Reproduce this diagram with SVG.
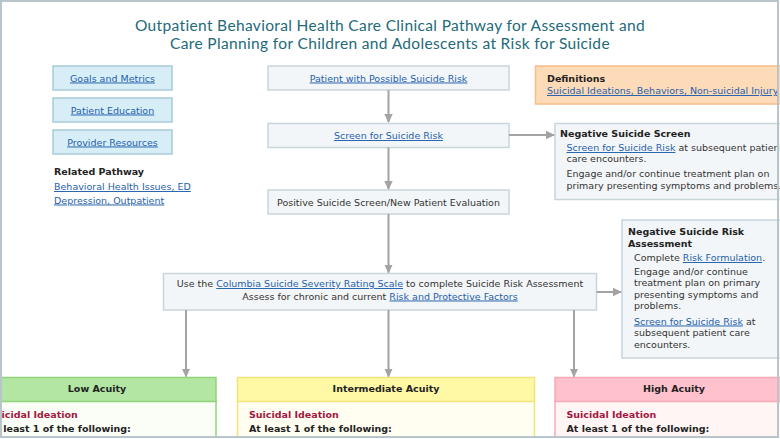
<svg xmlns="http://www.w3.org/2000/svg" width="780" height="439" viewBox="0 0 780 439">
<style>
.t{font-family:"DejaVu Sans",Verdana,sans-serif;font-size:9.5px;fill:#333}
.b{font-weight:bold;fill:#222}
.lk{fill:#1f5fad;text-decoration:underline}
.c{text-anchor:middle}
.title{font-family:Lato,"Open Sans",sans-serif;font-size:15.5px;letter-spacing:0.35px;fill:#236a78;text-anchor:middle}
.btn{fill:#d8eef6;stroke:#a9cad8;stroke-width:1.5}
.box{fill:#f3f6f8;stroke:#c8d5db;stroke-width:1.5}
.conn{stroke:#a3a3a3;stroke-width:2;fill:none}
.red{fill:#a3173f;font-weight:bold}
</style>
<defs>
<marker id="ah" markerUnits="userSpaceOnUse" markerWidth="10" markerHeight="10" refX="8" refY="5" orient="auto">
<path d="M0,0.8 L9,5 L0,9.2 Z" fill="#a3a3a3"/>
</marker>
</defs>
<rect x="0" y="0" width="780" height="439" fill="#fff"/>
<g id="title">
<text class="title" x="390" y="31">Outpatient Behavioral Health Care Clinical Pathway for Assessment and</text>
<text class="title" x="390" y="48.5">Care Planning for Children and Adolescents at Risk for Suicide</text>
</g>
<g id="goals"><rect class="btn" x="53" y="66" width="119" height="24"/><text class="t lk c" x="112.5" y="81.5">Goals and Metrics</text></g>
<g id="education"><rect class="btn" x="53" y="98" width="119" height="24"/><text class="t lk c" x="112.5" y="113.5">Patient Education</text></g>
<g id="resources"><rect class="btn" x="53" y="130" width="119" height="24"/><text class="t lk c" x="112.5" y="145.5">Provider Resources</text></g>
<g id="related">
<text class="t b" x="54" y="175">Related Pathway</text>
<text class="t lk" x="54" y="190">Behavioral Health Issues, ED</text>
<text class="t lk" x="54" y="203.5">Depression, Outpatient</text>
</g>
<g id="definitions">
<rect x="535.5" y="66" width="260" height="38" fill="#fddbb8" stroke="#f6bd86" stroke-width="1.5"/>
<text class="t b" x="547" y="82">Definitions</text>
<text class="t lk" x="547" y="94">Suicidal Ideations, Behaviors, Non-suicidal Injury</text>
</g>
<g id="possible"><rect class="box" x="268" y="66" width="241" height="24"/><text class="t lk c" x="388.5" y="81.5">Patient with Possible Suicide Risk</text></g>
<g id="screen"><rect class="box" x="268" y="123.5" width="241" height="24"/><text class="t lk c" x="388.5" y="139">Screen for Suicide Risk</text></g>
<g id="positive"><rect class="box" x="268" y="190" width="241" height="24"/><text class="t c" x="388.5" y="205.5">Positive Suicide Screen/New Patient Evaluation</text></g>
<g id="negscreen">
<rect class="box" x="555" y="123.5" width="240" height="76"/>
<text class="t b" x="560" y="137">Negative Suicide Screen</text>
<text class="t" x="566.5" y="151"><tspan class="lk">Screen for Suicide Risk</tspan> at subsequent patient</text>
<text class="t" x="566.5" y="162">care encounters.</text>
<text class="t" x="566.5" y="177">Engage and/or continue treatment plan on</text>
<text class="t" x="566.5" y="189">primary presenting symptoms and problems.</text>
</g>
<g id="assessment">
<rect class="box" x="163.5" y="273.5" width="433" height="36.5"/>
<text class="t c" x="380" y="287">Use the <tspan class="lk">Columbia Suicide Severity Rating Scale</tspan> to complete Suicide Risk Assessment</text>
<text class="t c" x="380" y="299.5">Assess for chronic and current <tspan class="lk">Risk and Protective Factors</tspan></text>
</g>
<g id="negrisk">
<rect class="box" x="622" y="220" width="160" height="138"/>
<text class="t b" x="628" y="235">Negative Suicide Risk</text>
<text class="t b" x="628" y="246.5">Assessment</text>
<text class="t" x="634" y="261">Complete <tspan class="lk">Risk Formulation</tspan>.</text>
<text class="t" x="634" y="274.5">Engage and/or continue</text>
<text class="t" x="634" y="286">treatment plan on primary</text>
<text class="t" x="634" y="297.5">presenting symptoms and</text>
<text class="t" x="634" y="309">problems.</text>
<text class="t" x="634" y="324.5"><tspan class="lk">Screen for Suicide Risk</tspan> at</text>
<text class="t" x="634" y="336">subsequent patient care</text>
<text class="t" x="634" y="348">encounters.</text>
</g>
<g id="low">
<rect x="-22" y="401" width="238" height="50" fill="#fbfef6" stroke="#8fd37a" stroke-width="1.5"/>
<rect x="-22" y="377.5" width="238" height="24" fill="#b2e6a2" stroke="#8fd37a" stroke-width="1.5"/>
<text class="t b c" x="97" y="392">Low Acuity</text>
<text class="t red" x="-12" y="417.5">Suicidal Ideation</text>
<text class="t b" x="-12" y="432">At least 1 of the following:</text>
</g>
<g id="intermediate">
<rect x="237.5" y="401" width="297" height="50" fill="#fffef1" stroke="#f2e47a" stroke-width="1.5"/>
<rect x="237.5" y="377.5" width="297" height="24" fill="#fff9a6" stroke="#f2e47a" stroke-width="1.5"/>
<text class="t b c" x="386" y="392">Intermediate Acuity</text>
<text class="t red" x="249" y="417.5">Suicidal Ideation</text>
<text class="t b" x="249" y="432">At least 1 of the following:</text>
</g>
<g id="high">
<rect x="555" y="401" width="238" height="50" fill="#fff5f5" stroke="#f6aab8" stroke-width="1.5"/>
<rect x="555" y="377.5" width="238" height="24" fill="#ffc1cc" stroke="#f6aab8" stroke-width="1.5"/>
<text class="t b c" x="674" y="392">High Acuity</text>
<text class="t red" x="566.5" y="417.5">Suicidal Ideation</text>
<text class="t b" x="566.5" y="432">At least 1 of the following:</text>
</g>
<g id="connectors">
<line class="conn" x1="388.5" y1="90" x2="388.5" y2="122" marker-end="url(#ah)"/>
<line class="conn" x1="388.5" y1="147.5" x2="388.5" y2="189" marker-end="url(#ah)"/>
<line class="conn" x1="509" y1="135" x2="554" y2="135" marker-end="url(#ah)"/>
<line class="conn" x1="388.5" y1="214" x2="388.5" y2="272.5" marker-end="url(#ah)"/>
<line class="conn" x1="596.5" y1="292" x2="621" y2="292" marker-end="url(#ah)"/>
<line class="conn" x1="186" y1="310" x2="186" y2="376.5" marker-end="url(#ah)"/>
<line class="conn" x1="388.5" y1="310" x2="388.5" y2="376.5" marker-end="url(#ah)"/>
<line class="conn" x1="574" y1="310" x2="574" y2="376.5" marker-end="url(#ah)"/>
</g>
<rect x="1" y="1" width="777" height="436" fill="none" stroke="#b8c5cb" stroke-width="2"/>
<rect x="0" y="438" width="780" height="1" fill="#fff"/>
</svg>
